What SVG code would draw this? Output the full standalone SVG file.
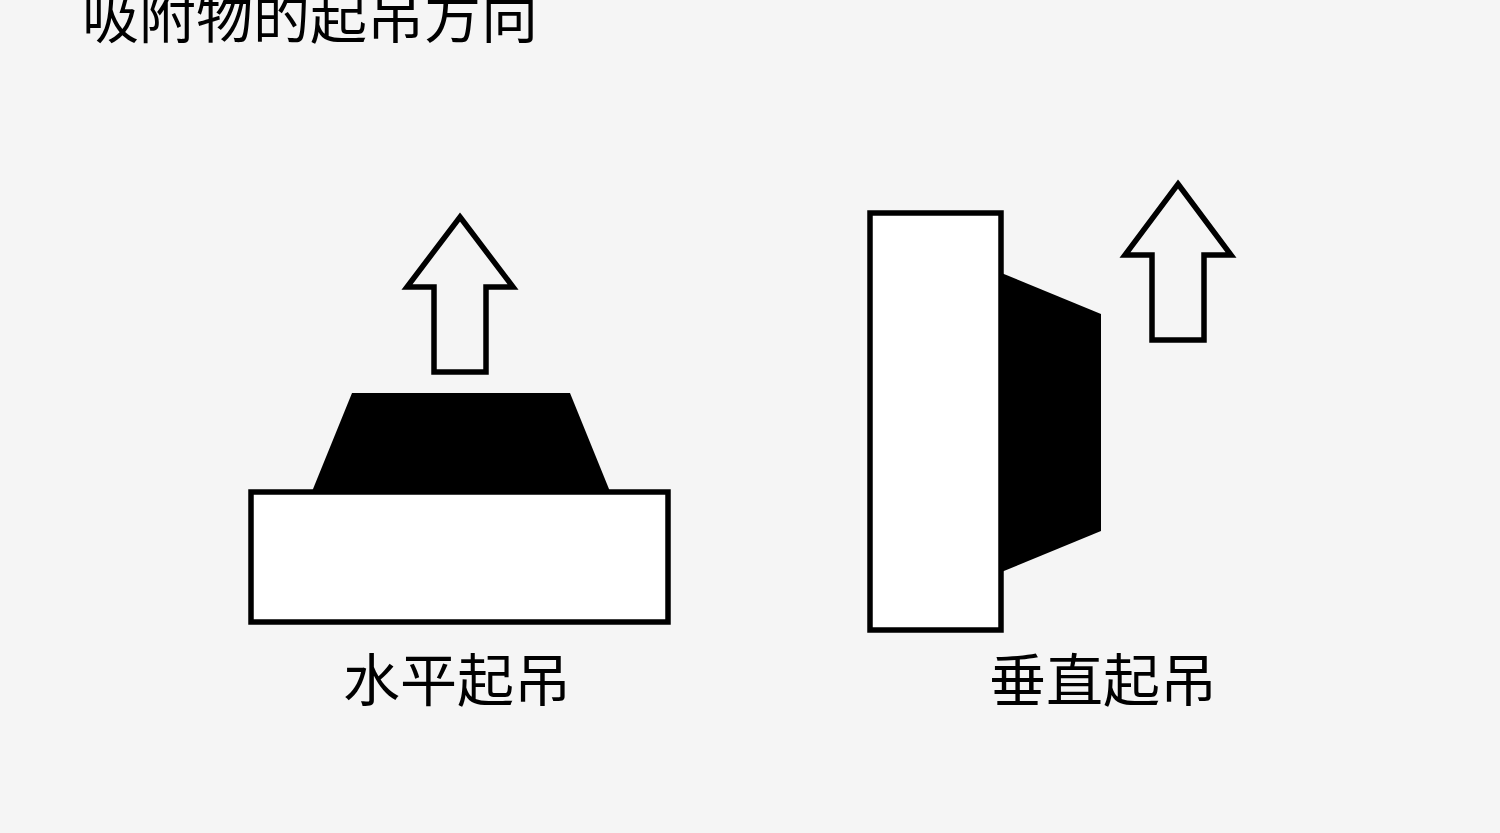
<svg xmlns="http://www.w3.org/2000/svg" width="1500" height="833" viewBox="0 0 1500 833">
<style>
.o{fill:#fff;stroke:#000;stroke-width:5.5;stroke-miterlimit:10}
.a{fill:#f5f5f5;stroke:#000;stroke-width:5.5;stroke-miterlimit:10}
.k{fill:#000}
text{font-family:"Noto Sans CJK SC","Liberation Sans",sans-serif;fill:#000;font-size:57px}
</style>
<rect width="1500" height="833" fill="#f5f5f5"/>
<text x="82" y="38">吸附物的起吊方向</text>
<g id="horizontal">
<path class="k" d="M352 393H570L611 494H311Z"/>
<rect class="o" x="251" y="492" width="417" height="130"/>
<path class="a" d="M460 217L513 287H486V372H434V287H407Z"/>
<text x="343" y="701">水平起吊</text>
</g>
<g id="vertical">
<path class="k" d="M999 272L1101 314V531L999 573Z"/>
<rect class="o" x="870" y="213" width="131" height="417"/>
<path class="a" d="M1178 184L1231 255H1204V340H1152V255H1125Z"/>
<text x="989" y="701">垂直起吊</text>
</g>
</svg>
